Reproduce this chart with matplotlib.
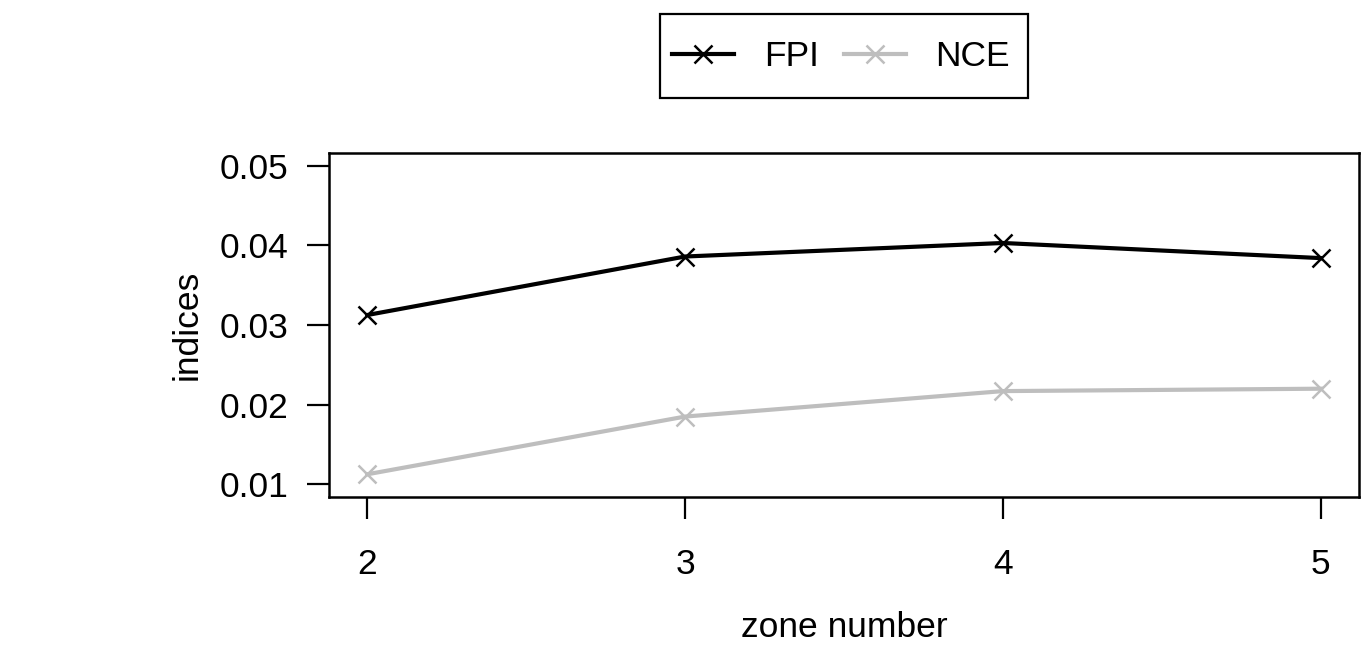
import matplotlib
matplotlib.use("Agg")
import matplotlib.pyplot as plt
from matplotlib.patches import Rectangle

zones = [2, 3, 4, 5]
fpi = [0.03125, 0.0386, 0.0403, 0.0384]
nce = [0.01125, 0.0185, 0.0217, 0.0220]
yticks = [0.01, 0.02, 0.03, 0.04, 0.05]

plt.rcParams['font.family'] = ['Liberation Sans', 'DejaVu Sans']
FS = 25.5
W, H = 1363, 656
fig = plt.figure(figsize=(W/100, H/100), dpi=100)
ax = fig.add_axes([329/W, 1-497/H, (1359-329)/W, (497-153)/H])

l1, = ax.plot(zones, fpi, color='black', lw=3.0, marker='x', ms=12.5, mew=1.8, label='FPI')
l2, = ax.plot(zones, nce, color='#bebebe', lw=3.0, marker='x', ms=12.5, mew=1.8, label='NCE')

ax.set_xlim(2 - 0.12, 5 + 0.12)
ax.set_ylim(0.01 - 0.0016, 0.05 + 0.0016)
ax.set_xticks(zones)
ax.set_xticklabels([str(z) for z in zones])
ax.set_yticks(yticks)
ax.set_yticklabels([f"{v:.2f}" for v in yticks])
ax.tick_params(axis='both', labelsize=FS, length=16, width=1.6, direction='out', pad=13)
ax.tick_params(axis='x', pad=21)
for s in ax.spines.values():
    s.set_linewidth(1.8)

ax.set_xlabel('zone number', fontsize=FS, labelpad=21)
ax.set_ylabel('indices', fontsize=FS, labelpad=12)

leg = fig.legend(handles=[l1, l2], loc='center', bbox_to_anchor=(841/W, 1-57/H),
                 ncol=2, fontsize=FS, frameon=False,
                 handlelength=1.75, handletextpad=0.85,
                 columnspacing=0.7, borderpad=0.3, borderaxespad=0)
fig.patches.append(Rectangle((660/W, 1-98/H), (1028-660)/W, (98-14)/H,
                             transform=fig.transFigure, fill=False,
                             edgecolor='black', linewidth=1.6, zorder=0))

fig.savefig('out.png', dpi=100, facecolor='white')
